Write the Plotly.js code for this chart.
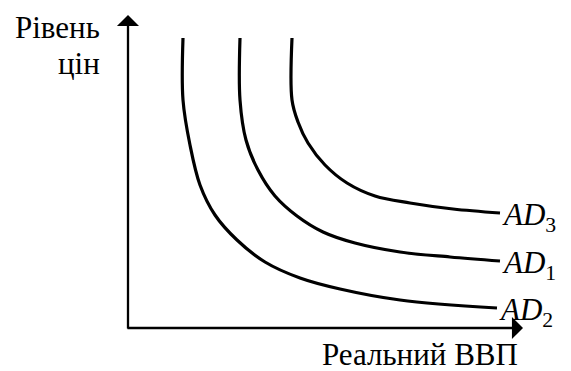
<!DOCTYPE html>
<html>
<head>
<meta charset="utf-8">
<script src="https://cdn.plot.ly/plotly-3.0.1.min.js"></script>
<style>
html,body{margin:0;padding:0;background:#fff;}
#chart{width:571px;height:371px;}
#chart text, #chart tspan{font-family:"Liberation Serif","Times New Roman","DejaVu Serif",serif !important;}
</style>
</head>
<body>
<div id="chart"></div>
<script>
// Реальний ВВП (x) and Рівень цін (y), arbitrary units
const ad2X = [55, 55, 62, 72, 87, 109, 137, 172, 212, 272, 369];
const ad2Y = [290, 228, 183, 143, 113, 88, 66, 50, 39, 28, 20];
const ad1X = [112, 112, 118, 130, 147, 169, 195, 227, 272, 322, 372];
const ad1Y = [290, 228, 188, 158, 132, 112, 96, 85, 76, 71, 67];
const ad3X = [164, 164, 170, 180, 197, 219, 247, 282, 325, 372];
const ad3Y = [290, 228, 206, 185, 163, 145, 132, 125, 119, 115];
const curveLabels = ['<i>AD</i><sub>2</sub>', '<i>AD</i><sub>1</sub>', '<i>AD</i><sub>3</sub>'];
const xTitle = 'Реальний ВВП';
const yTitleLines = ['Рівень', 'цін'];
const xMax = 395, yMax = 313;

const lineStyle = {color: '#000', width: 3.2, shape: 'spline', smoothing: 1};
const series = [[ad2X, ad2Y], [ad1X, ad1Y], [ad3X, ad3Y]];
const traces = series.map(s => ({
  x: s[0], y: s[1], mode: 'lines', line: lineStyle, hoverinfo: 'skip', showlegend: false
}));

const font = {family: 'Liberation Serif', color: '#000', size: 31};
const annotations = [
  {x: 0, y: yMax, ax: 0, ay: -2, xref: 'x', yref: 'y', axref: 'x', ayref: 'y', text: '', showarrow: true,
   arrowhead: 1, arrowsize: 1.6, arrowwidth: 2.3, arrowcolor: '#000'},
  {x: xMax, y: 0, ax: -2, ay: 0, xref: 'x', yref: 'y', axref: 'x', ayref: 'y', text: '', showarrow: true,
   arrowhead: 1, arrowsize: 1.6, arrowwidth: 2.3, arrowcolor: '#000'},
  {x: -26, y: 301, xref: 'x', yref: 'y', text: yTitleLines[0], showarrow: false, xanchor: 'right', yanchor: 'middle', font: font},
  {x: -26, y: 265, xref: 'x', yref: 'y', text: yTitleLines[1], showarrow: false, xanchor: 'right', yanchor: 'middle', font: font},
  {x: 392, y: -26, xref: 'x', yref: 'y', text: xTitle, showarrow: false, xanchor: 'right', yanchor: 'middle', font: font}
];
const ends = [[ad2X, ad2Y], [ad1X, ad1Y], [ad3X, ad3Y]];
curveLabels.forEach((t, i) => {
  const ex = ends[i][0][ends[i][0].length - 1];
  const ey = ends[i][1][ends[i][1].length - 1];
  annotations.push({x: ex, y: ey - 4, xref: 'x', yref: 'y', text: t, showarrow: false,
    xanchor: 'left', yanchor: 'middle', font: font});
});

const layout = {
  width: 571, height: 371,
  margin: {l: 0, r: 0, t: 0, b: 0},
  paper_bgcolor: '#fff', plot_bgcolor: '#fff',
  font: {family: 'Liberation Serif', color: '#000'},
  xaxis: {range: [-128, 443], visible: false, fixedrange: true},
  yaxis: {range: [-43, 328], visible: false, fixedrange: true},
  annotations: annotations,
  showlegend: false
};
Plotly.newPlot('chart', traces, layout, {staticPlot: true, displayModeBar: false});
</script>
</body>
</html>
